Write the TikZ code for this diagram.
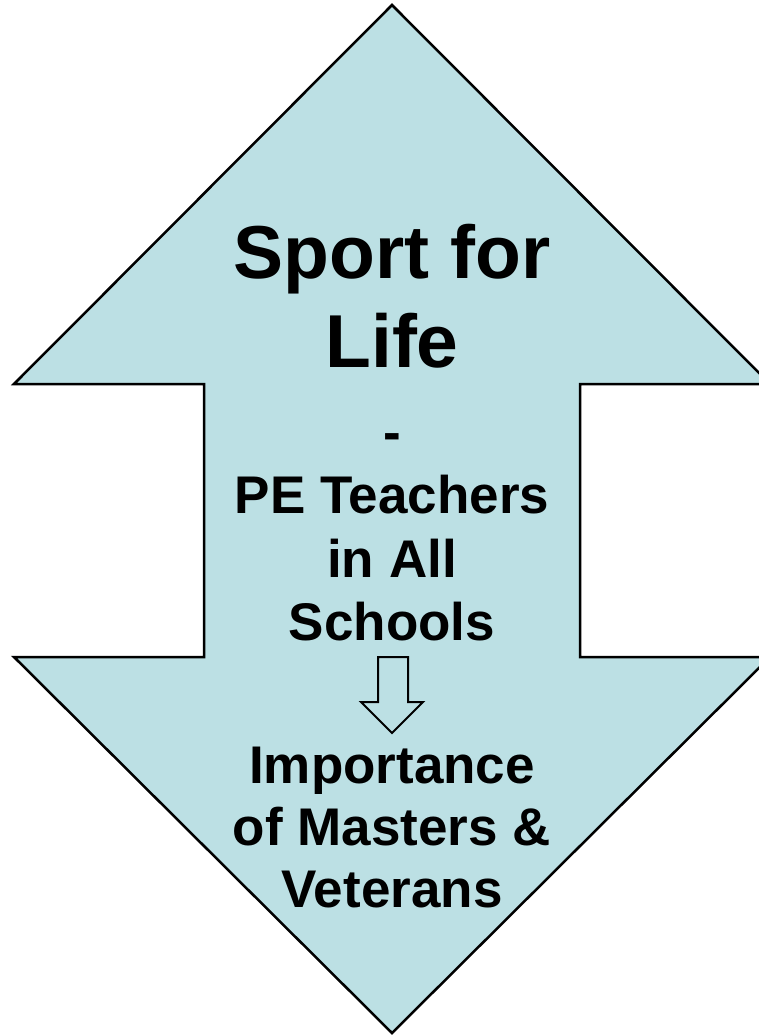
\documentclass[tikz,border=0pt]{standalone}
\usepackage{fontspec}
\setmainfont{Liberation Sans}
\definecolor{arrowblue}{RGB}{188,224,228}
\tikzset{
  bigtext/.style={anchor=base, font=\bfseries\fontsize{75}{89}\selectfont},
  smalltext/.style={anchor=base, font=\bfseries\fontsize{53}{63}\selectfont}
}

\begin{document}
\begin{tikzpicture}[x=1pt,y=-1pt]
        \useasboundingbox (0,0) rectangle (759,1035);
        \clip (0,0) rectangle (759,1035);
        % double arrow
        \draw[line width=2.5pt, fill=arrowblue] (392,5) -- (770,384) -- (580,384) -- (580,657) -- (770,657)
            -- (392,1033) -- (14,657) -- (204,657) -- (204,384) -- (14,384) -- cycle;
        % small arrow
        \draw[line width=2pt, fill=arrowblue] (378,657) -- (408,657) -- (408,702) -- (423,702)
            -- (392,733) -- (361,702) -- (378,702) -- cycle;
        \node[bigtext] at (392,278) (sport) {Sport for};
        \node[bigtext] at (392,367) (life) {Life};
        \node[smalltext] at (392,450) (dash) {-};
        \node[smalltext] at (392,513) (pe) {PE Teachers};
        \node[smalltext] at (392,577) (inall) {in All};
        \node[smalltext] at (392,640) (schools) {Schools};
        \node[smalltext] at (392,783) (importance) {Importance};
        \node[smalltext] at (392,845) (masters) {of Masters \&};
        \node[smalltext] at (392,907) (veterans) {Veterans};
    \end{tikzpicture}
\end{document}
